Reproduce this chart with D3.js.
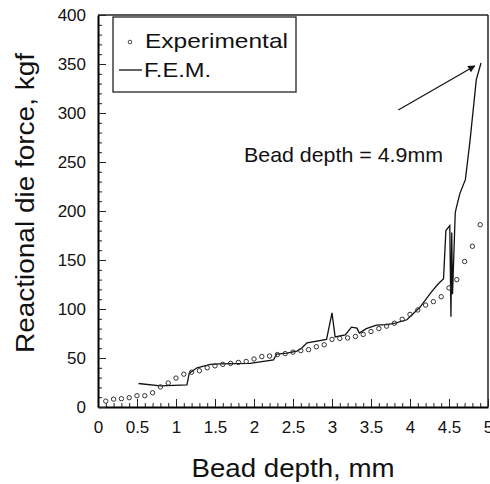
<!DOCTYPE html>
<html>
<head>
<meta charset="utf-8">
<script src="https://cdn.jsdelivr.net/npm/d3@7/dist/d3.min.js"></script>
<style>
  body { margin: 0; background: #fff; }
  text { font-family: "Liberation Sans", Arial, sans-serif; fill: #111; }
</style>
</head>
<body>
<script>
// Bead depth vs reactional die force

// experimental points (bead depth mm, force kgf)
let expDepth = [0.1, 0.2, 0.3, 0.4, 0.5, 0.6, 0.7, 0.8, 0.9, 1.0,
  1.1, 1.2, 1.3, 1.4, 1.5, 1.6, 1.7, 1.8, 1.9, 2.0,
  2.1, 2.2, 2.3, 2.4, 2.5, 2.6, 2.7, 2.8, 2.9, 3.0,
  3.1, 3.2, 3.3, 3.4, 3.5, 3.6, 3.7, 3.8, 3.9, 4.0,
  4.1, 4.2, 4.3, 4.4, 4.5, 4.6, 4.7, 4.8, 4.9]
let expForce = [6, 8, 8.5, 9.5, 11.5, 11.5, 14.5, 20.5, 24.5, 29.5,
  33.5, 35.5, 37, 40, 42, 43.5, 44.5, 45.5, 46.5, 49,
  51.5, 52, 53.5, 54.5, 56, 57.5, 58.5, 61.5, 63.5, 69,
  70, 70.5, 72, 74, 77, 80, 82.5, 85.5, 89.5, 94.5,
  99, 104, 107.5, 112.5, 121.5, 130, 148.5, 164, 186]

// F.E.M. curve
let femDepth = [0.52, 0.8, 1.14, 1.17, 1.27, 1.44, 1.56, 1.95, 2.25, 2.29,
  2.42, 2.55, 2.61, 2.68, 2.93, 3.0, 3.04, 3.17, 3.25, 3.32,
  3.35, 3.44, 3.57, 3.7, 3.81, 3.96, 4.13, 4.26, 4.36, 4.43,
  4.46, 4.51, 4.525, 4.535, 4.545, 4.58, 4.59, 4.64, 4.71, 4.77,
  4.85, 4.91]
let femForce = [24, 21.5, 22.5, 34.5, 40, 43.5, 44, 44.5, 48, 54,
  55, 57, 60, 65.5, 69, 96, 71.5, 73.5, 81.5, 80.5,
  75.5, 80, 83.5, 84, 85.5, 89, 102, 116, 125.5, 131,
  180, 185, 92, 178, 115, 198, 202, 218, 232, 272,
  334, 351]

let xTicks = [0, 0.5, 1, 1.5, 2, 2.5, 3, 3.5, 4, 4.5, 5]
let yTicks = [0, 50, 100, 150, 200, 250, 300, 350, 400]

let W = 490, H = 484
let svg = d3.select('body').append('svg')
  .attr('width', W)
  .attr('height', H)

let x = d3.scaleLinear().domain([0, 5]).range([98, 488])
let y = d3.scaleLinear().domain([0, 400]).range([407, 15])

// frame top / right
svg.append('line')
  .attr('x1', x(0)).attr('x2', x(5)).attr('y1', y(400)).attr('y2', y(400))
  .attr('stroke', '#222').attr('stroke-width', 1.5)
svg.append('line')
  .attr('x1', x(5)).attr('x2', x(5)).attr('y1', y(400)).attr('y2', y(0))
  .attr('stroke', '#222').attr('stroke-width', 1.5)

// minor ticks
let xMinor = d3.range(0, 51).map(d => d / 10)
let yMinor = d3.range(0, 41).map(d => d * 10)
svg.append('g')
  .attr('transform', 'translate(0,' + y(0) + ')')
  .call(d3.axisBottom(x).tickValues(xMinor).tickSize(-4).tickFormat(''))
  .call(g => g.select('.domain').remove())
svg.append('g')
  .attr('transform', 'translate(' + x(0) + ',0)')
  .call(d3.axisLeft(y).tickValues(yMinor).tickSize(-4).tickFormat(''))
  .call(g => g.select('.domain').remove())

// major axes
let gx = svg.append('g')
  .attr('transform', 'translate(0,' + y(0) + ')')
  .call(d3.axisBottom(x).tickValues(xTicks).tickSize(-8).tickPadding(14).tickSizeOuter(0)
    .tickFormat(d => d3.format('')(d)))
let gy = svg.append('g')
  .attr('transform', 'translate(' + x(0) + ',0)')
  .call(d3.axisLeft(y).tickValues(yTicks).tickSize(-8).tickPadding(12).tickSizeOuter(0))
gx.selectAll('text').attr('font-size', 17).attr('font-family', '"Liberation Sans", Arial, sans-serif')
gy.selectAll('text').attr('font-size', 17).attr('font-family', '"Liberation Sans", Arial, sans-serif')
gx.select('.domain').attr('stroke-width', 2)
gy.select('.domain').attr('stroke-width', 2)
svg.selectAll('.tick line').attr('stroke', '#222')

// F.E.M. line
let femData = femDepth.map((d, i) => [d, femForce[i]])
svg.append('path')
  .datum(femData)
  .attr('fill', 'none')
  .attr('stroke', '#111')
  .attr('stroke-width', 1.3)
  .attr('d', d3.line().x(d => x(d[0])).y(d => y(d[1])))

// experimental points
svg.append('g')
  .selectAll('circle')
  .data(expDepth)
  .enter().append('circle')
  .attr('cx', d => x(d))
  .attr('cy', (d, i) => y(expForce[i]))
  .attr('r', 2.2)
  .attr('fill', 'none')
  .attr('stroke', '#333')
  .attr('stroke-width', 1)

// legend
let lg = svg.append('g')
lg.append('rect')
  .attr('x', 113).attr('y', 17).attr('width', 183).attr('height', 75)
  .attr('fill', '#fff').attr('stroke', '#222').attr('stroke-width', 1.3)
lg.append('circle')
  .attr('cx', 130).attr('cy', 42).attr('r', 1.8)
  .attr('fill', 'none').attr('stroke', '#333').attr('stroke-width', 0.9)
lg.append('text').attr('x', 145).attr('y', 48).attr('font-size', 21)
  .attr('textLength', 143).attr('lengthAdjust', 'spacingAndGlyphs').text('Experimental')
lg.append('line')
  .attr('x1', 119).attr('x2', 142).attr('y1', 70).attr('y2', 70)
  .attr('stroke', '#111').attr('stroke-width', 1.3)
lg.append('text').attr('x', 144).attr('y', 77).attr('font-size', 21)
  .attr('textLength', 67).attr('lengthAdjust', 'spacingAndGlyphs').text('F.E.M.')

// annotation
svg.append('defs').append('marker')
  .attr('id', 'head')
  .attr('viewBox', '0 0 10 10')
  .attr('refX', 9).attr('refY', 5)
  .attr('markerWidth', 8).attr('markerHeight', 6)
  .attr('orient', 'auto')
  .append('path').attr('d', 'M0,0L10,5L0,10z').attr('fill', '#111')
svg.append('line')
  .attr('x1', x(3.85)).attr('y1', y(303))
  .attr('x2', x(4.83)).attr('y2', y(348))
  .attr('stroke', '#111').attr('stroke-width', 1.2)
  .attr('marker-end', 'url(#head)')
svg.append('text')
  .attr('x', 244).attr('y', 162)
  .attr('font-size', 21)
  .attr('textLength', 199)
  .attr('lengthAdjust', 'spacingAndGlyphs')
  .text('Bead depth = 4.9mm')

// axis titles
svg.append('text')
  .attr('x', 293).attr('y', 477)
  .attr('text-anchor', 'middle')
  .attr('font-size', 26)
  .attr('textLength', 203)
  .attr('lengthAdjust', 'spacingAndGlyphs')
  .text('Bead depth, mm')
svg.append('text')
  .attr('transform', 'translate(34,203) rotate(-90)')
  .attr('text-anchor', 'middle')
  .attr('font-size', 25)
  .attr('textLength', 300)
  .attr('lengthAdjust', 'spacingAndGlyphs')
  .text('Reactional die force, kgf')
</script>
</body>
</html>
